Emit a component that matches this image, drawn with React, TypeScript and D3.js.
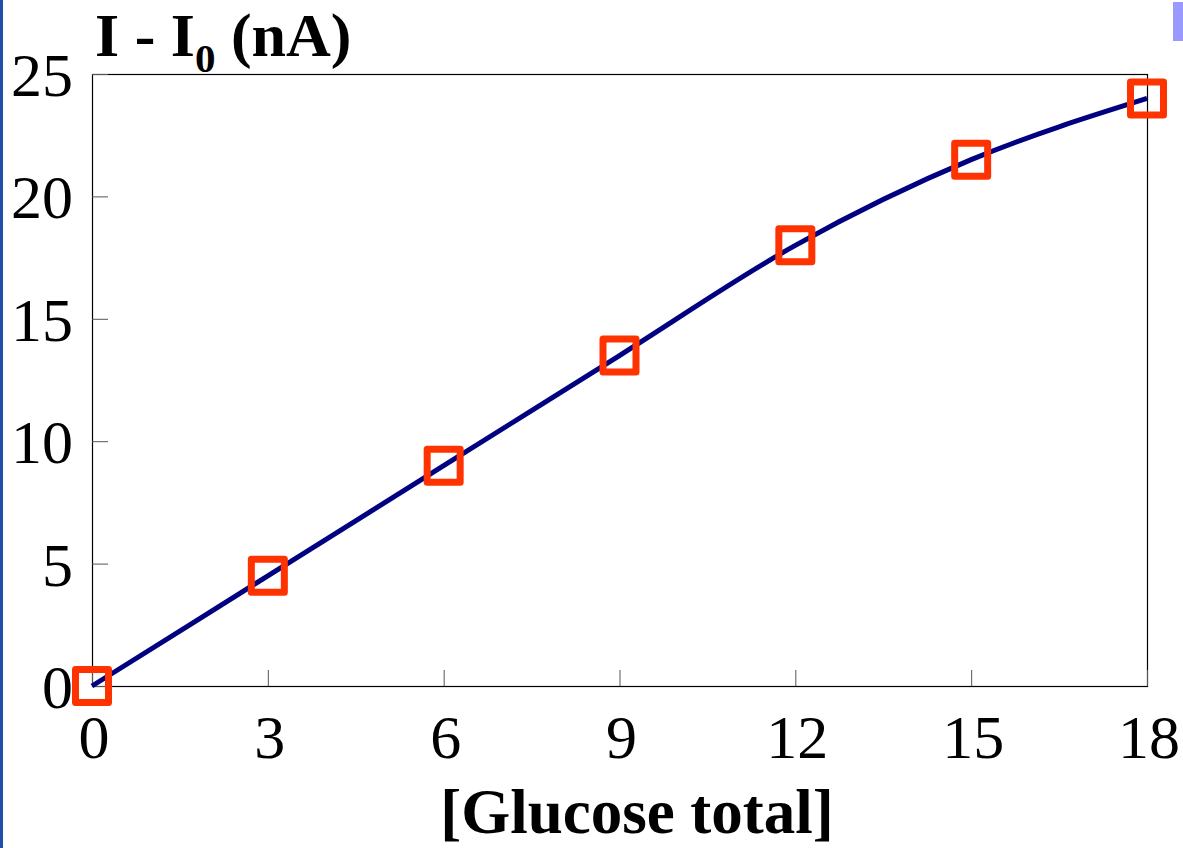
import React, { useEffect, useRef } from 'react';
import * as d3 from 'd3';

// Glucose total vs current response
const glucose = [0, 3, 6, 9, 12, 15, 18];
const current = [0, 4.5, 9, 13.5, 18, 21.5, 24];
const xTicks = [0, 3, 6, 9, 12, 15, 18];
const yTicks = [0, 5, 10, 15, 20, 25];

const W = 1183;
const H = 848;
const margin = { top: 74, right: 36, bottom: 162, left: 92 };

const App: React.FC = () => {
  const svgRef = useRef<SVGSVGElement>(null);

  useEffect(() => {
    if (!svgRef.current) return;
    const svg = d3.select(svgRef.current);
    svg.selectAll('*').remove();

    const x = d3.scaleLinear().domain([0, 18]).range([margin.left, W - margin.right]);
    const y = d3.scaleLinear().domain([0, 25]).range([H - margin.bottom, margin.top]);
    const font = '"Liberation Serif", "Times New Roman", serif';

    // slide decoration
    svg.append('rect').attr('x', 0).attr('y', 0).attr('width', 3).attr('height', H).attr('fill', '#1f4fa8');
    svg.append('rect').attr('x', 1173).attr('y', 2).attr('width', 10).attr('height', 39).attr('fill', '#9999ff');

    // frame
    svg.append('rect')
      .attr('x', x(0) + 0.5)
      .attr('y', y(25) + 0.5)
      .attr('width', x(18) - x(0))
      .attr('height', y(0) - y(25))
      .attr('fill', 'none')
      .attr('stroke', '#000')
      .attr('stroke-width', 1.2);

    // y ticks (inward)
    svg.append('g').selectAll('line')
      .data(yTicks)
      .enter()
      .append('line')
      .attr('x1', x(0))
      .attr('x2', x(0) + 16)
      .attr('y1', d => y(d) + 0.5)
      .attr('y2', d => y(d) + 0.5)
      .attr('stroke', '#555')
      .attr('stroke-width', 1);

    svg.append('g').selectAll('text')
      .data(yTicks)
      .enter()
      .append('text')
      .attr('x', x(0) - 19)
      .attr('y', d => y(d) + 22)
      .attr('text-anchor', 'end')
      .style('font-family', font)
      .style('font-size', '62px')
      .text(d => d);

    // x ticks (inward)
    svg.append('g').selectAll('line')
      .data(xTicks)
      .enter()
      .append('line')
      .attr('x1', d => x(d) + 0.5)
      .attr('x2', d => x(d) + 0.5)
      .attr('y1', y(0))
      .attr('y2', y(0) - 16)
      .attr('stroke', '#555')
      .attr('stroke-width', 1);

    svg.append('g').selectAll('text')
      .data(xTicks)
      .enter()
      .append('text')
      .attr('x', d => x(d) + 2)
      .attr('y', y(0) + 72)
      .attr('text-anchor', 'middle')
      .style('font-family', font)
      .style('font-size', '62px')
      .text(d => d);

    // fitted curve
    const pts: [number, number][] = glucose.map((g, i) => [g, current[i]]);
    const line = d3.line<[number, number]>()
      .x(d => x(d[0]))
      .y(d => y(d[1]))
      .curve(d3.curveMonotoneX);

    svg.append('path')
      .datum(pts)
      .attr('d', line)
      .attr('fill', 'none')
      .attr('stroke', '#000080')
      .attr('stroke-width', 5);

    // markers
    const s = 33;
    svg.append('g').selectAll('rect')
      .data(pts)
      .enter()
      .append('rect')
      .attr('x', d => x(d[0]) - s / 2)
      .attr('y', d => y(d[1]) - s / 2)
      .attr('width', s)
      .attr('height', s)
      .attr('fill', 'none')
      .attr('stroke', '#ff3300')
      .attr('stroke-width', 7)
      .attr('stroke-linejoin', 'round');

    // y axis title
    const t = svg.append('text')
      .attr('x', 95)
      .attr('y', 56)
      .style('font-family', font)
      .style('font-size', '62px')
      .style('font-weight', 'bold');
    t.append('tspan').text('I - I');
    t.append('tspan').attr('dy', 16).style('font-size', '41px').text('0');
    t.append('tspan').attr('dy', -16).text(' (nA)');

    // x axis title
    svg.append('text')
      .attr('x', 637)
      .attr('y', 833)
      .attr('text-anchor', 'middle')
      .style('font-family', font)
      .style('font-size', '63px')
      .style('font-weight', 'bold')
      .text('[Glucose total]');
  }, []);

  return (
    <div style={{ position: 'absolute', left: 0, top: 0 }}>
      <svg ref={svgRef} width={W} height={H} style={{ display: 'block', background: '#fff' }}></svg>
    </div>
  );
};

export default App;
